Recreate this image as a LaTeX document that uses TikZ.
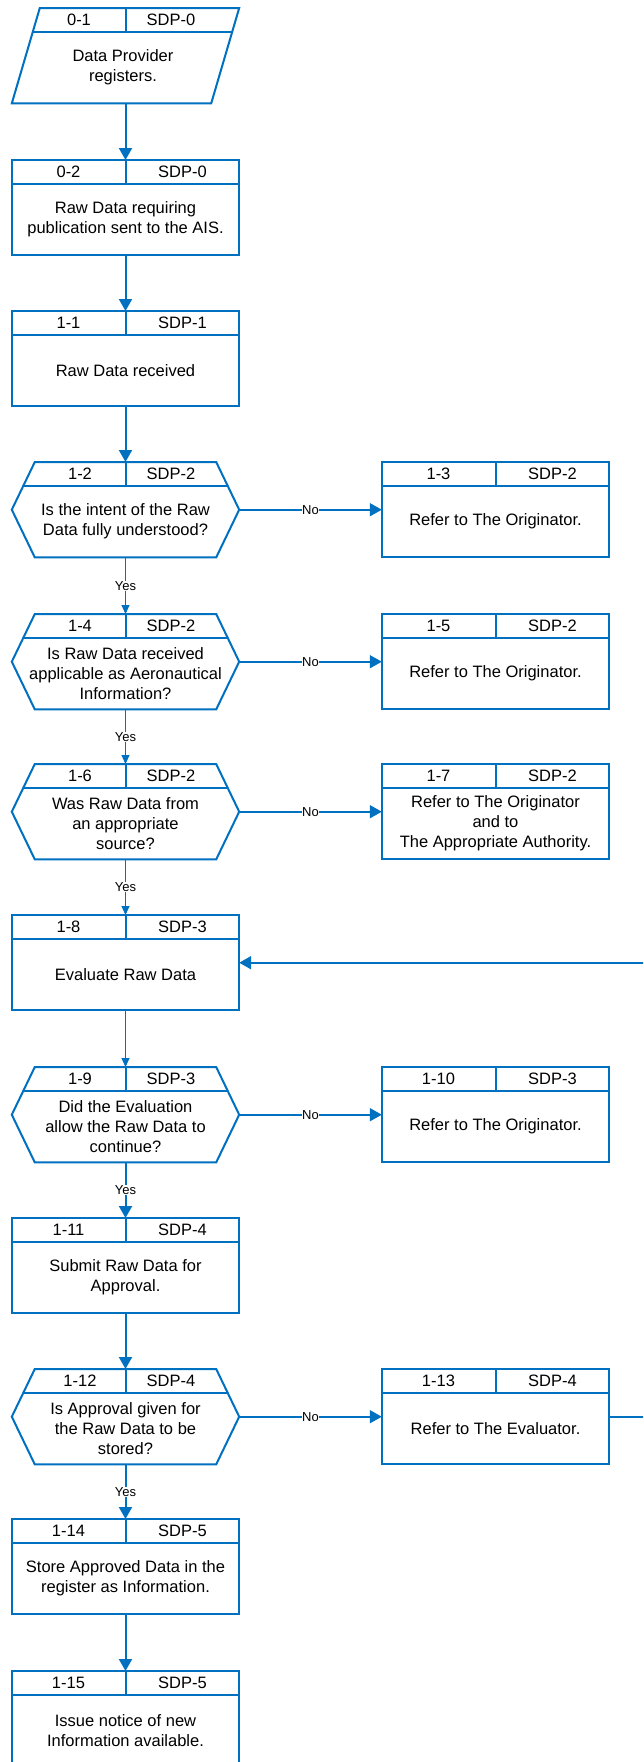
\documentclass[tikz,border=0pt]{standalone}
\usepackage{fontspec}
\setmainfont{Liberation Sans}
\usetikzlibrary{arrows.meta}
\definecolor{fcblue}{RGB}{0,112,192}
\tikzset{
 shp/.style={draw=none, minimum width=227pt, minimum height=95pt, inner sep=0pt, anchor=north},
 outl/.style={draw=fcblue, line width=2pt, line join=miter},
 hdr/.style={font=\fontsize{16.5}{20}\selectfont, inner sep=0pt},
 bodytxt/.style={font=\fontsize{16.5}{20}\selectfont, align=center, inner sep=0pt},
 mainarrow/.style={draw=fcblue, line width=2pt, -{Triangle[length=12pt,width=13pt]}},
 thinarrow/.style={draw=fcblue, line width=1pt, -{Triangle[length=9pt,width=8pt]}},
 noarrow/.style={draw=fcblue, line width=1.7pt, -{Triangle[length=12pt,width=13pt]}},
 lbl/.style={font=\fontsize{13}{13}\selectfont, fill=white, inner sep=0.5pt},
}
\newcommand{\fcrect}[6]{%
 \node[shp] (#1) at (#2,#3) {};
 \draw[outl] (#1.north west) rectangle (#1.south east);
 \draw[outl] ([yshift=-23.5pt]#1.north west) -- ([yshift=-23.5pt]#1.north east);
 \draw[outl] (#1.north) -- ([yshift=-23.5pt]#1.north);
 \node[hdr] (#1-id) at ([xshift=-57pt,yshift=-11.75pt]#1.north) {#4};
 \node[hdr] (#1-sdp) at ([xshift=57pt,yshift=-11.75pt]#1.north) {#5};
 \node[bodytxt] (#1-txt) at ([yshift=-11.75pt]#1.center) {#6};
}
\newcommand{\fchex}[6]{%
 \node[shp] (#1) at (#2,#3) {};
 \draw[outl] (#1.west) -- ([xshift=23pt]#1.north west) -- ([xshift=-23pt]#1.north east) -- (#1.east) -- ([xshift=-23pt]#1.south east) -- ([xshift=23pt]#1.south west) -- cycle;
 \draw[outl] ([xshift=11.6pt,yshift=-23.5pt]#1.north west) -- ([xshift=-11.6pt,yshift=-23.5pt]#1.north east);
 \draw[outl] (#1.north) -- ([yshift=-23.5pt]#1.north);
 \node[hdr] (#1-id) at ([xshift=-45.5pt,yshift=-11.75pt]#1.north) {#4};
 \node[hdr] (#1-sdp) at ([xshift=45.5pt,yshift=-11.75pt]#1.north) {#5};
 \node[bodytxt] (#1-txt) at ([yshift=-11.75pt]#1.center) {#6};
}
\newcommand{\fcpar}[6]{%
 \node[shp] (#1) at (#2,#3) {};
 \draw[outl] ([xshift=28pt]#1.north west) -- (#1.north east) -- ([xshift=-28pt]#1.south east) -- (#1.south west) -- cycle;
 \draw[outl] ([xshift=21pt,yshift=-23.5pt]#1.north west) -- ([xshift=-7pt,yshift=-23.5pt]#1.north east);
 \draw[outl] (#1.north) -- ([yshift=-23.5pt]#1.north);
 \node[hdr] (#1-id) at ([xshift=-46.5pt,yshift=-11.75pt]#1.north) {#4};
 \node[hdr] (#1-sdp) at ([xshift=45.5pt,yshift=-11.75pt]#1.north) {#5};
 \node[bodytxt] (#1-txt) at ([xshift=-2.5pt,yshift=-11.75pt]#1.center) {#6};
}
\begin{document}
\begin{tikzpicture}[x=1pt,y=-1pt]
\useasboundingbox (0,0) rectangle (643,1762);
\clip (0,0) rectangle (643,1762);
\fill[white] (0,0) rectangle (643,1762);

\fcpar{p01}{125.5}{8}{0-1}{SDP-0}{Data Provider\\registers.}
\fcrect{b02}{125.5}{160}{0-2}{SDP-0}{Raw Data requiring\\publication sent to the AIS.}
\fcrect{b11}{125.5}{311}{1-1}{SDP-1}{Raw Data received}
\fchex{h12}{125.5}{462}{1-2}{SDP-2}{Is the intent of the Raw\\Data fully understood?}
\fcrect{b13}{495.5}{462}{1-3}{SDP-2}{Refer to The Originator.}
\fchex{h14}{125.5}{614}{1-4}{SDP-2}{Is Raw Data received\\applicable as Aeronautical\\Information?}
\fcrect{b15}{495.5}{614}{1-5}{SDP-2}{Refer to The Originator.}
\fchex{h16}{125.5}{764}{1-6}{SDP-2}{Was Raw Data from\\an appropriate\\source?}
\fcrect{b17}{495.5}{764}{1-7}{SDP-2}{Refer to The Originator\\and to\\The Appropriate Authority.}
\fcrect{b18}{125.5}{915}{1-8}{SDP-3}{Evaluate Raw Data}
\fchex{h19}{125.5}{1067}{1-9}{SDP-3}{Did the Evaluation\\allow the Raw Data to\\continue?}
\fcrect{b110}{495.5}{1067}{1-10}{SDP-3}{Refer to The Originator.}
\fcrect{b111}{125.5}{1218}{1-11}{SDP-4}{Submit Raw Data for\\Approval.}
\fchex{h112}{125.5}{1369}{1-12}{SDP-4}{Is Approval given for\\the Raw Data to be\\stored?}
\fcrect{b113}{495.5}{1369}{1-13}{SDP-4}{Refer to The Evaluator.}
\fcrect{b114}{125.5}{1519}{1-14}{SDP-5}{Store Approved Data in the\\register as Information.}
\fcrect{b115}{125.5}{1671}{1-15}{SDP-5}{Issue notice of new\\Information available.}

\draw[mainarrow] (p01.south) -- (b02.north);
\draw[mainarrow] (b02.south) -- (b11.north);
\draw[mainarrow] (b11.south) -- (h12.north);
\draw[thinarrow] (h12.south) -- node[lbl] (y12) {Yes} (h14.north);
\draw[noarrow] (h12.east) -- node[lbl] (n12) {No} (b13.west);
\draw[thinarrow] (h14.south) -- node[lbl] (y14) {Yes} (h16.north);
\draw[noarrow] (h14.east) -- node[lbl] (n14) {No} (b15.west);
\draw[thinarrow] (h16.south) -- node[lbl] (y16) {Yes} (b18.north);
\draw[noarrow] (h16.east) -- node[lbl] (n16) {No} (b17.west);
\draw[thinarrow] (b18.south) -- (h19.north);
\draw[noarrow] (h19.east) -- node[lbl] (n19) {No} (b110.west);
\draw[mainarrow] (h19.south) -- node[lbl] (y19) {Yes} (b111.north);
\draw[mainarrow] (b111.south) -- (h112.north);
\draw[noarrow] (h112.east) -- node[lbl] (n112) {No} (b113.west);
\draw[mainarrow] (h112.south) -- node[lbl] (y112) {Yes} (b114.north);
\draw[mainarrow] (b114.south) -- (b115.north);
\draw[mainarrow] (b113.east) -- ++(60,0) |- (b18.east);
\end{tikzpicture}
\end{document}
